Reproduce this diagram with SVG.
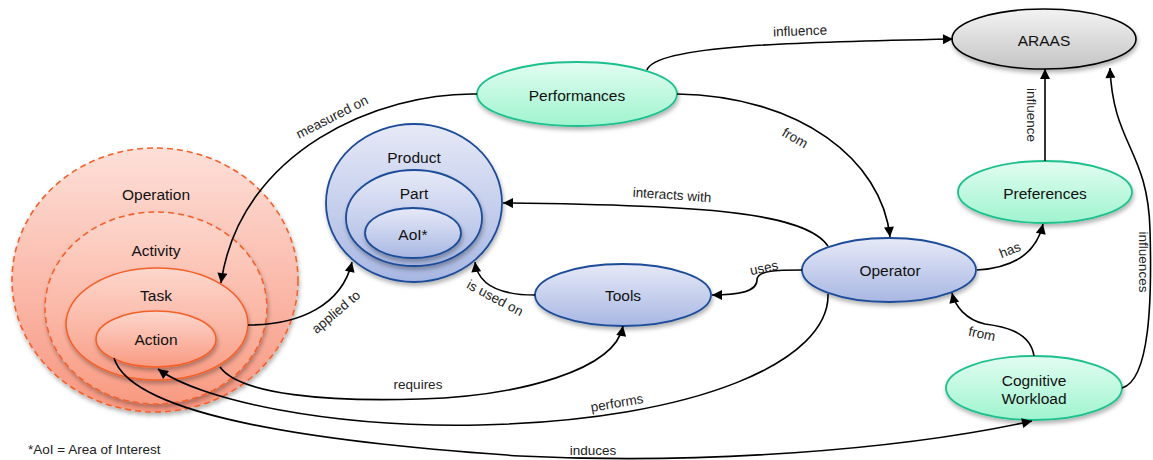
<svg xmlns="http://www.w3.org/2000/svg" width="1153" height="460" viewBox="0 0 1153 460">
<defs>
<linearGradient id="gRed" x1="0" y1="0" x2="0" y2="1"><stop offset="0" stop-color="#fde0d9"/><stop offset="1" stop-color="#f8967f"/></linearGradient>
<linearGradient id="gRed2" x1="0" y1="0" x2="0" y2="1"><stop offset="0" stop-color="#fdd7cd"/><stop offset="1" stop-color="#f99a82"/></linearGradient>
<linearGradient id="gBlue" x1="0" y1="0" x2="0" y2="1"><stop offset="0" stop-color="#e6e9f7"/><stop offset="1" stop-color="#a8b7e3"/></linearGradient>
<linearGradient id="gGreen" x1="0" y1="0" x2="0" y2="1"><stop offset="0" stop-color="#e2fdf1"/><stop offset="1" stop-color="#9ff4cf"/></linearGradient>
<linearGradient id="gGray" x1="0" y1="0" x2="0" y2="1"><stop offset="0" stop-color="#f3f3f3"/><stop offset="1" stop-color="#c4c4c4"/></linearGradient>
<filter id="sh" x="-20%" y="-20%" width="140%" height="150%"><feDropShadow dx="1" dy="3" stdDeviation="2" flood-color="#000" flood-opacity="0.3"/></filter>
<marker id="arr" viewBox="0 0 10 10" refX="10" refY="5" markerWidth="11" markerHeight="10" orient="auto" markerUnits="userSpaceOnUse"><path d="M0,0 L10,5 L0,10 z" fill="#000"/></marker>
<style>
.red{fill:url(#gRed);stroke:#f4612a;stroke-width:1.6;filter:url(#sh)}
.dash{stroke-dasharray:6,4}
.blue{fill:url(#gBlue);stroke:#1d4c98;stroke-width:1.8;filter:url(#sh)}
.green{fill:url(#gGreen);stroke:#1fc08e;stroke-width:1.8;filter:url(#sh)}
.gray{fill:url(#gGray);stroke:#000;stroke-width:1.6;filter:url(#sh)}
.nl{font-family:"Liberation Sans",Arial,sans-serif;font-size:15.5px;fill:#111;text-anchor:middle;dominant-baseline:central}
.el{font-family:"Liberation Sans",Arial,sans-serif;font-size:13.5px;fill:#222;text-anchor:middle;dominant-baseline:central}
.c{fill:none;stroke:#000;stroke-width:1.6;marker-end:url(#arr)}
</style>
</defs>
<rect width="1153" height="460" fill="#fff"/>

<g id="operation">
<ellipse class="red dash" cx="155" cy="280" rx="143" ry="132"/>
<text class="nl" x="156" y="194">Operation</text>
</g>
<g id="activity">
<ellipse class="red dash" cx="156" cy="308" rx="111" ry="96" style="fill:url(#gRed2)"/>
<text class="nl" x="156" y="250">Activity</text>
</g>
<g id="task">
<ellipse class="red" cx="157" cy="324" rx="91" ry="56" style="fill:url(#gRed2)"/>
<text class="nl" x="156" y="295">Task</text>
</g>
<g id="action">
<ellipse class="red" cx="156" cy="339" rx="60" ry="28" style="fill:url(#gRed2)"/>
<text class="nl" x="156" y="339">Action</text>
</g>

<g id="product">
<ellipse class="blue" cx="414" cy="203" rx="88" ry="79"/>
<text class="nl" x="414" y="157">Product</text>
</g>
<g id="part">
<ellipse class="blue" cx="414" cy="218" rx="68" ry="48"/>
<text class="nl" x="414" y="193">Part</text>
</g>
<g id="aoi">
<ellipse class="blue" cx="413" cy="233" rx="48" ry="25"/>
<text class="nl" x="413" y="234">AoI*</text>
</g>

<g id="performances">
<ellipse class="green" cx="577" cy="94" rx="100" ry="32"/>
<text class="nl" x="577" y="95">Performances</text>
</g>
<g id="araas">
<ellipse class="gray" cx="1044" cy="39" rx="92" ry="30"/>
<text class="nl" x="1044" y="40">ARAAS</text>
</g>
<g id="preferences">
<ellipse class="green" cx="1045" cy="192" rx="87" ry="31"/>
<text class="nl" x="1045" y="193">Preferences</text>
</g>
<g id="operator">
<ellipse class="blue" cx="889" cy="270" rx="87" ry="32"/>
<text class="nl" x="890" y="270">Operator</text>
</g>
<g id="tools">
<ellipse class="blue" cx="623" cy="295" rx="88" ry="31"/>
<text class="nl" x="623" y="295">Tools</text>
</g>
<g id="workload">
<ellipse class="green" cx="1034" cy="388" rx="88" ry="32"/>
<text class="nl" x="1034" y="380">Cognitive</text>
<text class="nl" x="1034" y="398">Workload</text>
</g>

<g id="connectors">
<path class="c" d="M477 94 C380 92 240 150 221 283"/>
<text class="el" x="332" y="117" transform="rotate(-27 332 117)">measured on</text>
<path class="c" d="M248 325 C300 325 342 305 352 262"/>
<text class="el" x="336" y="312" transform="rotate(-40 336 312)">applied to</text>
<path class="c" d="M535 295 C500 295 478 285 475 262"/>
<text class="el" x="495" y="298" transform="rotate(28 495 298)">is used on</text>
<path class="c" d="M828 246 C805 212 700 205 503 203"/>
<text class="el" x="672" y="195" transform="rotate(4 672 195)">interacts with</text>
<path class="c" d="M802 270 C778 270 757 270 757 280 C757 292 738 295 712 295"/>
<text class="el" x="764" y="268" transform="rotate(-12 764 268)">uses</text>
<path class="c" d="M677 94 C800 96 882 160 890 237"/>
<text class="el" x="795" y="138" transform="rotate(30 795 138)">from</text>
<path class="c" d="M647 70 C655 45 800 42 953 39"/>
<text class="el" x="800" y="31" transform="rotate(-2 800 31)">influence</text>
<path class="c" d="M1045 161 L1045 69"/>
<text class="el" x="1031" y="115" transform="rotate(90 1031 115)">influence</text>
<path class="c" d="M1122 388 C1150 380 1152 300 1150 230 C1148 150 1113 145 1110 68"/>
<text class="el" x="1143" y="262" transform="rotate(90 1143 262)">influences</text>
<path class="c" d="M977 270 C1012 268 1036 255 1043 224"/>
<text class="el" x="1010" y="250" transform="rotate(-22 1010 250)">has</text>
<path class="c" d="M1034 356 C1030 330 1000 326 985 324 C966 320 955 306 952 293"/>
<text class="el" x="982" y="334" transform="rotate(12 982 334)">from</text>
<path class="c" d="M220 367 C240 395 330 402 420 399 C520 396 615 370 623 326"/>
<text class="el" x="418" y="384">requires</text>
<path class="c" d="M828 294 C830 360 700 420 480 425 C330 428 200 400 158 369"/>
<text class="el" x="617" y="403" transform="rotate(-10 617 403)">performs</text>
<path class="c" d="M114 358 C130 410 280 440 520 456 C700 465 900 450 1032 421"/>
<text class="el" x="593" y="450">induces</text>
</g>

<text class="el" x="28" y="449" style="text-anchor:start">*AoI = Area of Interest</text>
</svg>
